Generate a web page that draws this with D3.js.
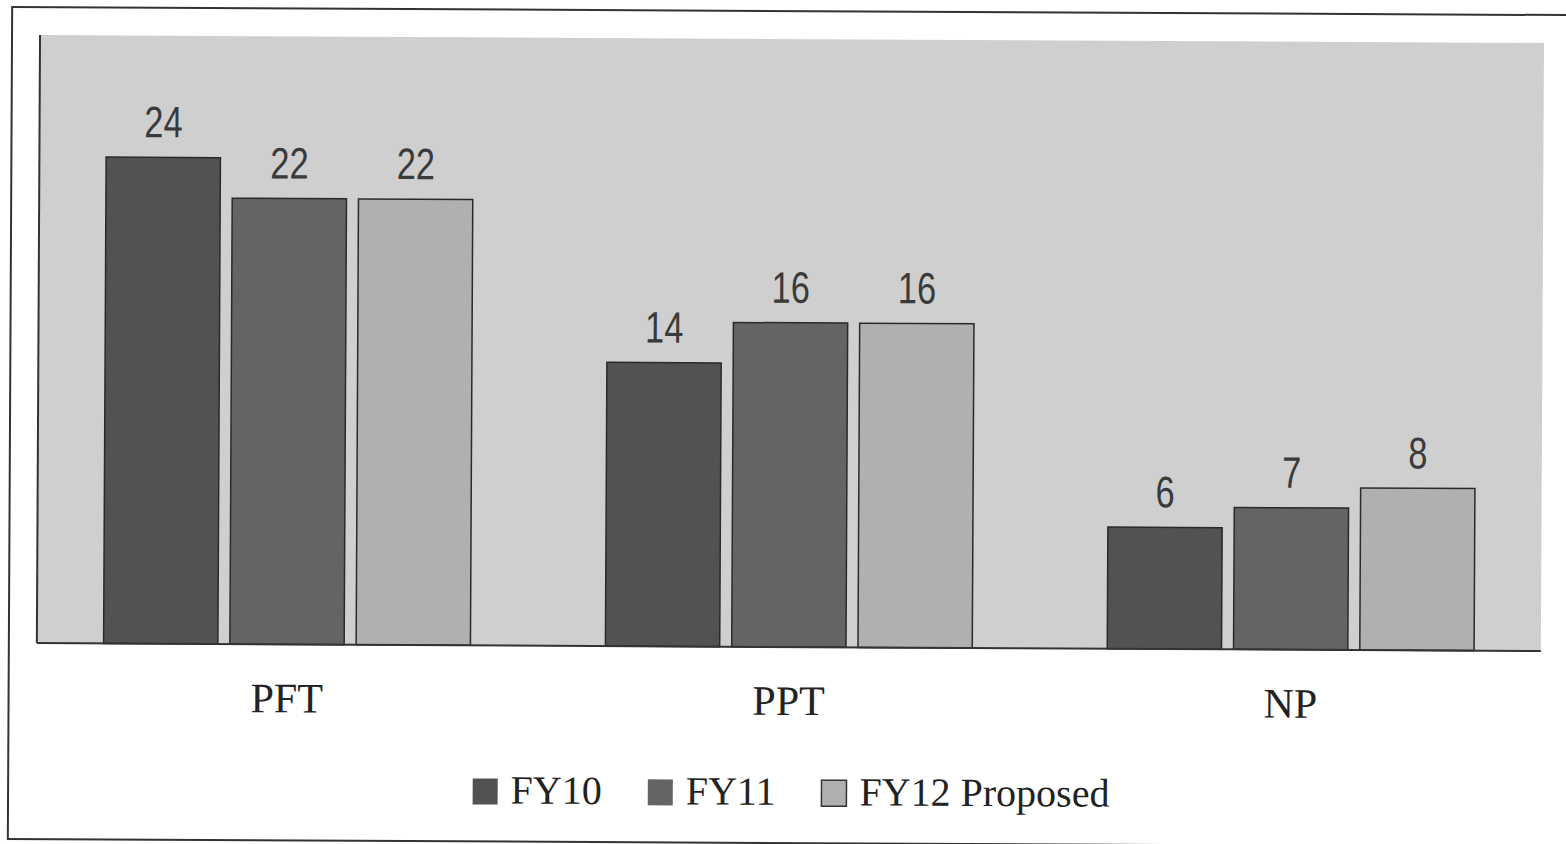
<!DOCTYPE html>
<html>
<head>
<meta charset="utf-8">
<script src="https://cdn.jsdelivr.net/npm/d3@7.9.0/dist/d3.min.js"></script>
<style>
  body { margin: 0; background: #fff; }
  svg { display: block; }
</style>
</head>
<body>
<svg id="chart" width="1566" height="844"></svg>
<script>
// chart data
const categories = ['PFT', 'PPT', 'NP'];
const series = ['FY10', 'FY11', 'FY12 Proposed'];
const fy10 = [24, 14, 6];
const fy11 = [22, 16, 7];
const fy12 = [22, 16, 8];

const colors = ['#525252', '#646464', '#b0b0b0'];

let data = categories.map((c, i) => ({
  cat: c,
  values: [fy10[i], fy11[i], fy12[i]].map((v, j) => ({ key: series[j], value: v }))
}));

let svg = d3.select('#chart');

// the scan is a little crooked
let g = svg.append('g').attr('transform', 'rotate(0.3, 783, 425)');

// outer frame
g.append('rect')
  .attr('x', 10).attr('y', 11)
  .attr('width', 1600).attr('height', 832)
  .attr('fill', 'none')
  .attr('stroke', '#333')
  .attr('stroke-width', 2);

let plot = { left: 38, right: 1542, top: 39, bottom: 647 };

let x0 = d3.scaleBand()
  .domain(categories)
  .range([plot.left, plot.right])
  .paddingInner(0.269)
  .paddingOuter(0.133);

let x1 = d3.scaleBand()
  .domain(series)
  .range([0, x0.bandwidth()])
  .paddingInner(0.095)
  .paddingOuter(0);

let y = d3.scaleLinear().domain([0, 30]).range([plot.bottom, plot.top]);

// plot background
g.append('rect')
  .attr('x', plot.left).attr('y', plot.top)
  .attr('width', plot.right - plot.left)
  .attr('height', plot.bottom - plot.top)
  .attr('fill', '#cfcfcf');

let groups = g.selectAll('.grp')
  .data(data)
  .join('g')
  .attr('class', 'grp')
  .attr('transform', d => `translate(${x0(d.cat)},0)`);

groups.selectAll('rect')
  .data(d => d.values)
  .join('rect')
  .attr('x', d => x1(d.key))
  .attr('y', d => y(d.value))
  .attr('width', x1.bandwidth())
  .attr('height', d => y(0) - y(d.value))
  .attr('fill', (d, i) => colors[i])
  .attr('stroke', '#2a2a2a')
  .attr('stroke-width', 1.5);

// value labels, narrow sans
groups.selectAll('text.val')
  .data(d => d.values)
  .join('text')
  .attr('class', 'val')
  .attr('transform', d => `translate(${x1(d.key) + x1.bandwidth() / 2},${y(d.value) - 20}) scale(0.78,1)`)
  .attr('text-anchor', 'middle')
  .attr('font-family', '"Liberation Sans", Arial, sans-serif')
  .attr('font-size', 44)
  .attr('fill', '#3a3a3a')
  .text(d => d.value);

// axes lines
g.append('line')
  .attr('x1', plot.left).attr('x2', plot.left)
  .attr('y1', plot.top).attr('y2', plot.bottom)
  .attr('stroke', '#333').attr('stroke-width', 2);
g.append('line')
  .attr('x1', plot.left).attr('x2', plot.right)
  .attr('y1', plot.bottom).attr('y2', plot.bottom)
  .attr('stroke', '#333').attr('stroke-width', 2);

// category labels
g.selectAll('text.cat')
  .data(categories)
  .join('text')
  .attr('class', 'cat')
  .attr('x', d => x0(d) + x0.bandwidth() / 2)
  .attr('y', 715)
  .attr('text-anchor', 'middle')
  .attr('font-family', '"Liberation Serif", "Times New Roman", serif')
  .attr('font-size', 42)
  .attr('fill', '#222')
  .text(d => d);

// legend
let legend = g.append('g');
let lx = 0;
series.forEach((s, i) => {
  let item = legend.append('g').attr('transform', `translate(${lx},0)`);
  item.append('rect')
    .attr('x', 0).attr('y', -25)
    .attr('width', 25).attr('height', 26)
    .attr('fill', colors[i])
    .attr('stroke', i == 2 ? '#333' : 'none')
    .attr('stroke-width', 1.5);
  let t = item.append('text')
    .attr('x', 38).attr('y', 0)
    .attr('font-family', '"Liberation Serif", "Times New Roman", serif')
    .attr('font-size', 40)
    .attr('fill', '#222')
    .text(s);
  lx += 38 + t.node().getComputedTextLength() + 46;
});
let legendWidth = lx - 46;
legend.attr('transform', `translate(${793 - legendWidth / 2},805)`);
</script>
</body>
</html>
